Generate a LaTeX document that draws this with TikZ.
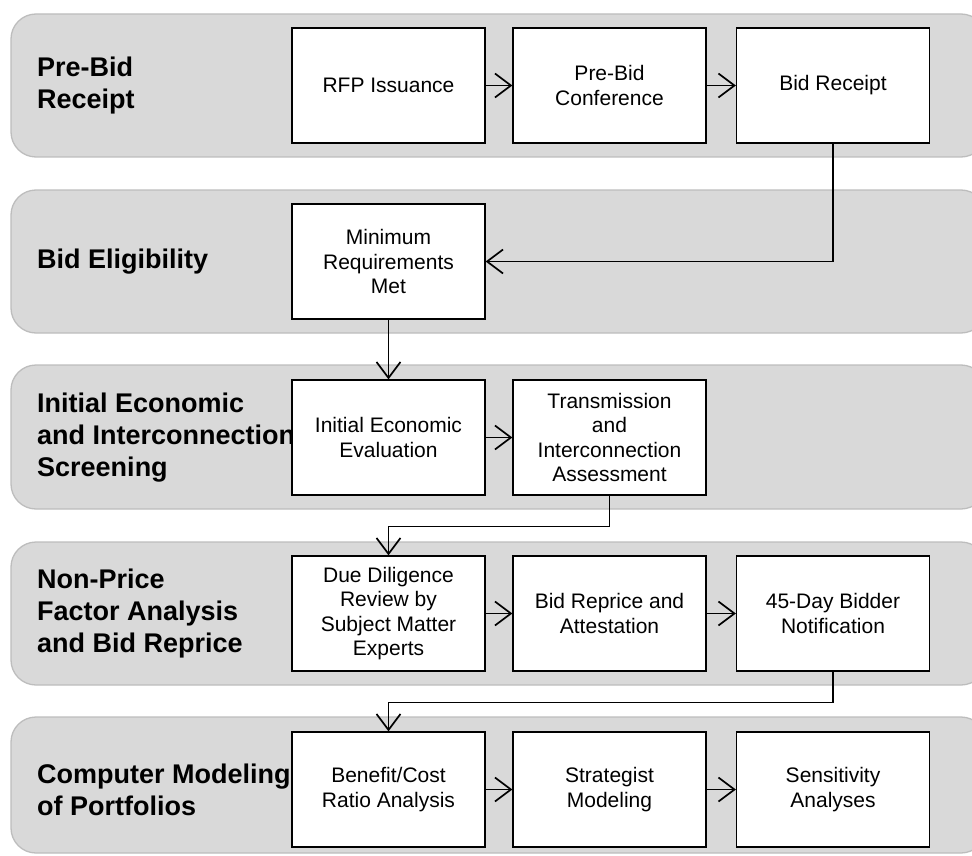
\documentclass[tikz,border=0pt]{standalone}
\usepackage{fontspec}
\setmainfont{Liberation Sans}
\usetikzlibrary{arrows.meta}
\definecolor{bandfill}{HTML}{D9D9D9}
\definecolor{bandedge}{HTML}{BDBDBD}
\begin{document}
\begin{tikzpicture}[x=1pt,y=-1pt,
  band/.style={draw=bandedge, fill=bandfill, line width=1.3pt, rounded corners=25pt},
  stepbox/.style={draw=black, fill=white, line width=1.2pt, minimum width=193pt, minimum height=115pt, inner sep=2pt, align=center, font=\fontsize{21}{24.5}\selectfont},
  phase/.style={anchor=west, inner sep=0pt, align=left, font=\fontsize{27}{32}\selectfont\bfseries},
  flow/.style={line width=1.7pt, -{Straight Barb[length=16pt,width=24pt]}}]
\useasboundingbox (0,0) rectangle (972,856);
\clip (0,0) rectangle (972,856);
% bands
\path[band] (11,14) rectangle (986,157);
\path[band] (11,190) rectangle (986,333);
\path[band] (11,365) rectangle (986,509);
\path[band] (11,542) rectangle (986,685);
\path[band] (11,717) rectangle (986,853);
% phase labels
\node[phase] (l1) at (37,86) {Pre-Bid\\Receipt};
\node[phase] (l2) at (37,262) {Bid Eligibility};
\node[phase] (l3) at (37,438) {Initial Economic\\and Interconnection\\Screening};
\node[phase] (l4) at (37,614) {Non-Price\\Factor Analysis\\and Bid Reprice};
\node[phase] (l5) at (37,790) {Computer Modeling\\of Portfolios};
% boxes
\node[stepbox] (rfp) at (388.5,85.5) {RFP Issuance};
\node[stepbox] (pbc) at (609.5,85.5) {Pre-Bid\\Conference};
\node[stepbox] (bid) at (833,85.5) {Bid Receipt};
\node[stepbox] (minreq) at (388.5,261.5) {Minimum\\Requirements\\Met};
\node[stepbox] (iee) at (388.5,437.5) {Initial Economic\\Evaluation};
\node[stepbox] (tia) at (609.5,437.5) {Transmission\\and\\Interconnection\\Assessment};
\node[stepbox] (dd) at (388.5,613.5) {Due Diligence\\Review by\\Subject Matter\\Experts};
\node[stepbox] (brp) at (609.5,613.5) {Bid Reprice and\\Attestation};
\node[stepbox] (notif) at (833,613.5) {45-Day Bidder\\Notification};
\node[stepbox] (bca) at (388.5,789.5) {Benefit/Cost\\Ratio Analysis};
\node[stepbox] (strat) at (609.5,789.5) {Strategist\\Modeling};
\node[stepbox] (sens) at (833,789.5) {Sensitivity\\Analyses};
% connectors
\draw[flow] (rfp) -- (pbc);
\draw[flow] (pbc) -- (bid);
\draw[flow] (bid.south) |- (minreq.east);
\draw[flow] (minreq) -- (iee);
\draw[flow] (iee) -- (tia);
\draw[flow] (tia.south) -- ++(0,31) -| (dd.north);
\draw[flow] (dd) -- (brp);
\draw[flow] (brp) -- (notif);
\draw[flow] (notif.south) -- ++(0,31) -| (bca.north);
\draw[flow] (bca) -- (strat);
\draw[flow] (strat) -- (sens);
\end{tikzpicture}
\end{document}
